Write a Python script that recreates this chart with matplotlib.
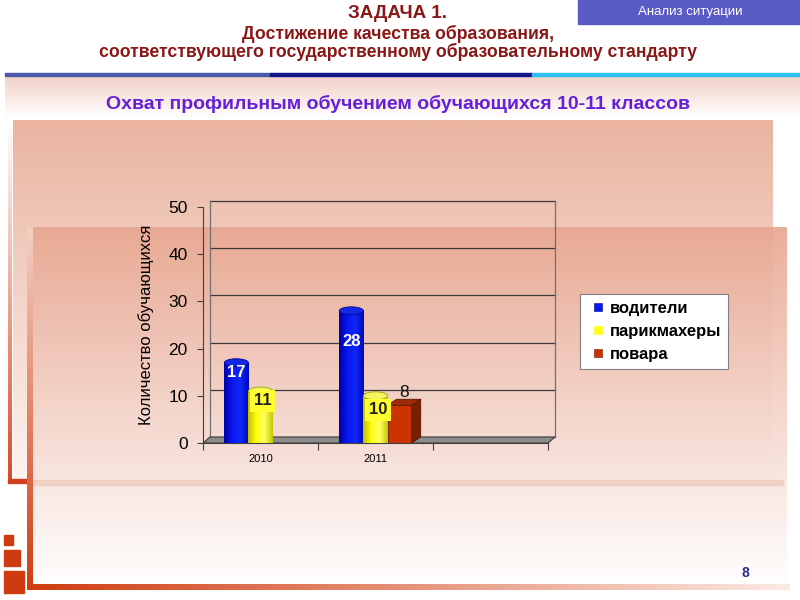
import matplotlib.pyplot as plt
import numpy as np
from matplotlib.patches import Rectangle, Ellipse, Polygon
from matplotlib.lines import Line2D
from matplotlib.colors import LinearSegmentedColormap

plt.rcParams['font.family'] = ['Liberation Sans', 'DejaVu Sans']

# данные
years = ['2010', '2011', '']
drivers = [17, 28, np.nan]
hairdressers = [11, 10, np.nan]
cooks = [np.nan, 8, np.nan]
series_names = ['водители', 'парикмахеры', 'повара']

fig = plt.figure(figsize=(8, 6), dpi=100)

# фон слайда (координаты в пикселях)
bg = fig.add_axes([0, 0, 1, 1])
bg.axis('off')


def grad(x0, x1, y0, y1, c1, c2, vertical=True, alpha=1.0, z=0):
    cmap = LinearSegmentedColormap.from_list('g', [c1, c2])
    g = np.linspace(0, 1, 256)
    g = g.reshape(-1, 1) if vertical else g.reshape(1, -1)
    bg.imshow(g, cmap=cmap, extent=(x0, x1, y1, y0), aspect='auto',
              alpha=alpha, zorder=z, interpolation='bilinear')


# верхняя плашка
bg.add_patch(Rectangle((578, 0), 222, 24, color='#5B5BC5', zorder=2))
bg.text(690, 12, 'Анализ ситуации', color='white', fontsize=9.5,
        ha='center', va='center', zorder=3)

# заголовок
title_col = '#8B1616'
bg.text(398, 14, 'ЗАДАЧА 1.', color=title_col, fontsize=13.5, fontweight='bold',
        ha='center', va='center')
bg.text(398, 34, 'Достижение качества образования,', color=title_col,
        fontsize=12.7, fontweight='bold', ha='center', va='center')
bg.text(398, 52, 'соответствующего государственному образовательному стандарту',
        color=title_col, fontsize=12.7, fontweight='bold', ha='center', va='center')

# линия под заголовком
bg.add_patch(Rectangle((5, 73), 265, 3, color='#4A5AA8', zorder=2))
bg.add_patch(Rectangle((270, 73), 262, 3, color='#14148A', zorder=2))
bg.add_patch(Rectangle((532, 73), 268, 3, color='#2EC0F0', zorder=2))
grad(5, 800, 76, 118, '#F2D0C6', '#FFFFFF', z=1)

bg.text(398, 104, 'Охват профильным обучением обучающихся 10-11 классов',
        color='#6420D8', fontsize=14, fontweight='bold', ha='center',
        va='center', zorder=3)

# розовые прямоугольники
grad(13, 773, 120, 483, '#EAB4A0', '#FDF4F1', z=1)
grad(8, 12, 120, 483, '#FFFFFF', '#D84A28', z=1)
bg.add_patch(Rectangle((8, 479), 22, 4, color='#D04020', zorder=1))
grad(28, 787, 227, 588, '#E8A690', '#FFFFFF', alpha=0.9, z=2)
bg.add_patch(Rectangle((33, 480), 750, 5, color='#EFC0B0', alpha=0.5, zorder=2))
grad(27, 33, 227, 590, '#F4D0C4', '#D03C10', z=3)
grad(27, 790, 584, 590, '#D03C10', '#FBEAE4', vertical=False, z=3)

# квадратики слева внизу
for (sx, sy, sw, sh) in [(4, 535, 9, 10), (4, 550, 16, 16), (4, 571, 20, 22)]:
    bg.add_patch(Rectangle((sx, sy), sw, sh, color='#D03A10', zorder=3))

bg.text(745, 573, '8', color='#2B2B8C', fontsize=10, fontweight='bold',
        ha='center', va='center', zorder=4)

bg.set_xlim(0, 800)
bg.set_ylim(600, 0)

# диаграмма
ax = fig.add_axes([203 / 800, 157 / 600, 345 / 800, 236 / 600])
ax.patch.set_alpha(0)
x = np.arange(len(years))
w = 0.21

# смещение задней стенки (в долях осей)
dxa, dya = 7 / 345, 6 / 236
px_x = 3 / 345      # единиц данных по x на пиксель
px_y = 50 / 236     # единиц данных по y на пиксель

tr = ax.get_yaxis_transform()
for yv in range(0, 51, 10):
    ax.plot([dxa, 1 + dxa], [yv + 6 * px_y, yv + 6 * px_y], transform=tr,
            color='#3A3A3A', lw=0.9, clip_on=False, zorder=1)
for xa in [dxa, 1 + dxa]:
    ax.plot([xa, xa], [dya, 1 + dya], transform=ax.transAxes, color='#707070',
            lw=0.9, clip_on=False, zorder=1)
ax.add_patch(Polygon([(0, 0), (1, 0), (1 + dxa, dya), (dxa, dya)],
                     closed=True, transform=ax.transAxes, facecolor='#8C8C8C',
                     edgecolor='#404040', lw=0.8, clip_on=False, zorder=2))


def cylinders(xs, vals, cols, top_col, edge):
    bars = ax.bar(xs, vals, w, color=cols[1], zorder=3)
    cmap = LinearSegmentedColormap.from_list('c', cols)
    g = np.linspace(0, 1, 64).reshape(1, -1)
    eh = 8 * px_y
    for b, v, xc in zip(bars, vals, xs):
        if np.isnan(v):
            continue
        im = ax.imshow(g, cmap=cmap, extent=(xc - w / 2, xc + w / 2, 0, v),
                       aspect='auto', zorder=3, interpolation='bilinear')
        im.set_clip_path(b)
        ax.add_patch(Ellipse((xc, 0), w, eh, facecolor=cols[-1], zorder=2.9))
        ax.add_patch(Ellipse((xc, v), w, eh, facecolor=top_col, edgecolor=edge,
                             lw=0.6, zorder=4))


cylinders(x - w, drivers, ['#0000A8', '#0A18F0', '#1028F8', '#0008B8'],
          '#1428E8', '#000090')
cylinders(x, hairdressers, ['#C0C000', '#FFFF10', '#FFFF60', '#C8C800'],
          '#F4F460', '#A0A000')

# повара - коробки
bars = ax.bar(x + w, cooks, w, color='#CC3300', edgecolor='#6A1800', lw=0.6, zorder=3)
ddx, ddy = 9 * px_x, 6 * px_y
for xc, v in zip(x + w, cooks):
    if np.isnan(v):
        continue
    r = xc + w / 2
    l = xc - w / 2
    ax.add_patch(Polygon([(r, 0), (r + ddx, ddy), (r + ddx, v + ddy), (r, v)],
                         facecolor='#7A1E00', edgecolor='#5A1400', lw=0.6, zorder=3))
    ax.add_patch(Polygon([(l, v), (r, v), (r + ddx, v + ddy), (l + ddx, v + ddy)],
                         facecolor='#A02A08', edgecolor='#5A1400', lw=0.6, zorder=3))

# подписи значений
drivers_lab_y = [15, 21.6, np.nan]
hair_lab_y = [8.9, 7.0, np.nan]
cooks_lab_y = [np.nan, 10.8, np.nan]
for xc, v, ly in zip(x - w, drivers, drivers_lab_y):
    if not np.isnan(v):
        ax.text(xc, ly, f'{v:.0f}', color='white', fontsize=12, fontweight='bold',
                ha='center', va='center', zorder=6)
for xc, v, ly in zip(x, hairdressers, hair_lab_y):
    if not np.isnan(v):
        ax.text(xc + 0.02, ly, f'{v:.0f}', color='#202020', fontsize=12,
                fontweight='bold', ha='center', va='center', zorder=6,
                bbox=dict(boxstyle='square,pad=0.22', fc='#FFFF30', ec='none'))
for xc, v, ly in zip(x + w, cooks, cooks_lab_y):
    if not np.isnan(v):
        ax.text(xc + 0.04, ly, f'{v:.0f}', color='#101010', fontsize=12.5,
                ha='center', va='center', zorder=6)

ax.set_xlim(-0.5, 2.5)
ax.set_ylim(0, 50)
ax.set_yticks(range(0, 51, 10))
ax.tick_params(axis='y', labelsize=12.5, length=4, color='#404040', pad=7)
ax.set_xticks([-0.5, 0.5, 1.5, 2.5])
ax.set_xticklabels([])
ax.tick_params(axis='x', which='major', length=5, color='#404040')
ax.set_xticks(x, minor=True)
ax.set_xticklabels(years, minor=True, fontsize=8)
ax.tick_params(axis='x', which='minor', length=0, pad=8)
for s in ['top', 'right']:
    ax.spines[s].set_visible(False)
ax.spines['left'].set_color('#404040')
ax.spines['bottom'].set_color('#404040')
ax.set_ylabel('Количество обучающихся', fontsize=12, labelpad=10)

handles = [Line2D([], [], ls='none', marker='s', ms=5.5, mfc='#0A18F0', mec='#000090', mew=0.4),
           Line2D([], [], ls='none', marker='s', ms=5.5, mfc='#FFFF10', mec='#FFFF10', mew=0.4),
           Line2D([], [], ls='none', marker='s', ms=5.5, mfc='#CC3300', mec='#6A1800', mew=0.4)]
leg = fig.legend(handles, series_names, loc='upper left',
                 bbox_to_anchor=(580 / 800, 1 - 294 / 600),
                 prop={'weight': 'bold', 'size': 12}, frameon=True,
                 fancybox=False, edgecolor='#808080', framealpha=1,
                 handlelength=1.3, handletextpad=0.1,
                 labelspacing=0.5, borderpad=0.4, borderaxespad=0)
leg.get_frame().set_linewidth(0.8)

fig.savefig('out.png', dpi=100)
